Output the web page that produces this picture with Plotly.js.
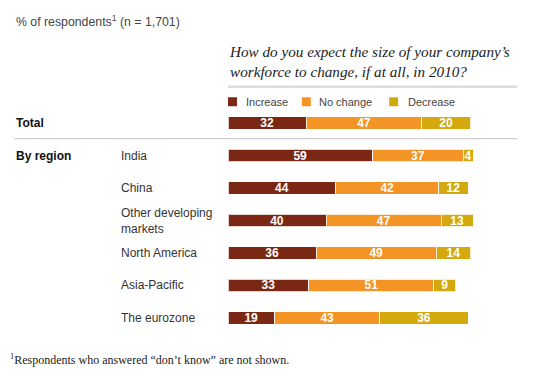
<!DOCTYPE html>
<html>
<head>
<meta charset="utf-8">
<script src="https://cdn.plot.ly/plotly-3.0.1.min.js"></script>
<style>html,body{margin:0;padding:0;background:#fff;}#chart{width:545px;height:385px;}</style>
</head>
<body>
<div id="chart"></div>
<script>
// ---- data ----
const categories = ["Total", "India", "China", "Other developing markets", "North America", "Asia-Pacific", "The eurozone"];
const categoryLabels = ["Total", "India", "China", "Other developing<br>markets", "North America", "Asia-Pacific", "The eurozone"];
const seriesNames = ["Increase", "No change", "Decrease"];
const increase = [32, 59, 44, 40, 36, 33, 19];
const noChange = [47, 37, 42, 47, 49, 51, 43];
const decrease = [20, 4, 12, 13, 14, 9, 36];
const groupLabels = ["Total", "By region"];
const subtitle = "% of respondents<sup>1</sup> (n = 1,701)";
const question = "How do you expect the size of your company’s<br>workforce to change, if at all, in 2010?";
const footnote = "<sup>1</sup>Respondents who answered “don’t know” are not shown.";

// ---- layout geometry (pixels) ----
const W = 545, H = 385;
const mL = 228, mR = 71.5, mT = 106.75, mB = 50.75;
const pw = W - mL - mR, ph = H - mT - mB;
const px = v => (v - mL) / pw;
const py = v => (H - mB - v) / ph;

const colors = ["#7a2814", "#f39424", "#d4a90e"];
const seriesVals = [increase, noChange, decrease];

const traces = seriesVals.map((vals, i) => ({
  type: "bar",
  orientation: "h",
  name: seriesNames[i],
  y: categories,
  x: vals,
  text: vals.map(String),
  textposition: "inside",
  insidetextanchor: "middle",
  textangle: 0,
  constraintext: "none",
  textfont: {family: "Liberation Sans, Arial, sans-serif", size: 12, color: "#ffffff", weight: "bold"},
  marker: {color: colors[i], line: {color: "rgba(255,255,255,0.8)", width: 1}},
  hoverinfo: "none",
  showlegend: false
}));

const annotations = [];
// category labels
categories.forEach((c, i) => {
  if (i === 0) return;
  annotations.push({
    xref: "paper", yref: "y", x: px(119), y: c, xanchor: "left", yanchor: "middle",
    text: categoryLabels[i], showarrow: false, align: "left",
    font: {family: "Liberation Sans, Arial, sans-serif", size: 12, color: "#333"}
  });
});
// group labels
annotations.push({xref: "paper", yref: "y", x: px(14), y: categories[0], xanchor: "left", yanchor: "middle",
  text: groupLabels[0], showarrow: false,
  font: {family: "Liberation Sans, Arial, sans-serif", size: 12, color: "#111", weight: "bold"}});
annotations.push({xref: "paper", yref: "y", x: px(14), y: categories[1], xanchor: "left", yanchor: "middle",
  text: groupLabels[1], showarrow: false,
  font: {family: "Liberation Sans, Arial, sans-serif", size: 12, color: "#111", weight: "bold"}});
// subtitle
annotations.push({xref: "paper", yref: "paper", x: px(14), y: py(21), xanchor: "left", yanchor: "middle",
  text: subtitle, showarrow: false,
  font: {family: "Liberation Sans, Arial, sans-serif", size: 12.3, color: "#444"}});
// question
annotations.push({xref: "paper", yref: "paper", x: px(227), y: py(61), xanchor: "left", yanchor: "middle",
  text: question, showarrow: false, align: "left",
  font: {family: "Liberation Serif, Times New Roman, serif", size: 15.2, color: "#222", style: "italic"}});
// footnote
annotations.push({xref: "paper", yref: "paper", x: px(8), y: py(360), xanchor: "left", yanchor: "middle",
  text: footnote, showarrow: false,
  font: {family: "Liberation Serif, Times New Roman, serif", size: 12, color: "#222"}});

// legend (manual)
const legendSquares = [228, 302, 389.5];
const legendTexts = [244, 317, 406];
const shapes = [];
seriesNames.forEach((n, i) => {
  shapes.push({type: "rect", xref: "paper", yref: "paper",
    x0: px(legendSquares[i]), x1: px(legendSquares[i] + 9), y0: py(106), y1: py(97),
    fillcolor: colors[i], line: {width: 0}});
  annotations.push({xref: "paper", yref: "paper", x: px(legendTexts[i]), y: py(101.5), xanchor: "left", yanchor: "middle",
    text: n, showarrow: false,
    font: {family: "Liberation Sans, Arial, sans-serif", size: 11, color: "#444"}});
});
// divider lines
shapes.push({type: "line", xref: "paper", yref: "paper", x0: px(228), x1: px(518), y0: py(86.5), y1: py(86.5),
  line: {color: "#dcdcdc", width: 2.5}});
shapes.push({type: "line", xref: "paper", yref: "paper", x0: px(14), x1: px(518), y0: py(138.5), y1: py(138.5),
  line: {color: "#c4c4c4", width: 1}});

const layout = {
  width: W, height: H,
  margin: {l: mL, r: mR, t: mT, b: mB, pad: 0},
  barmode: "stack",
  bargap: 0.615,
  paper_bgcolor: "#fff", plot_bgcolor: "#fff",
  xaxis: {range: [0, 100], visible: false, fixedrange: true},
  yaxis: {type: "category", range: [6.5, -0.5], visible: false, fixedrange: true},
  annotations: annotations,
  shapes: shapes,
  showlegend: false
};

Plotly.newPlot("chart", traces, layout, {displayModeBar: false, staticPlot: true});
</script>
</body>
</html>
